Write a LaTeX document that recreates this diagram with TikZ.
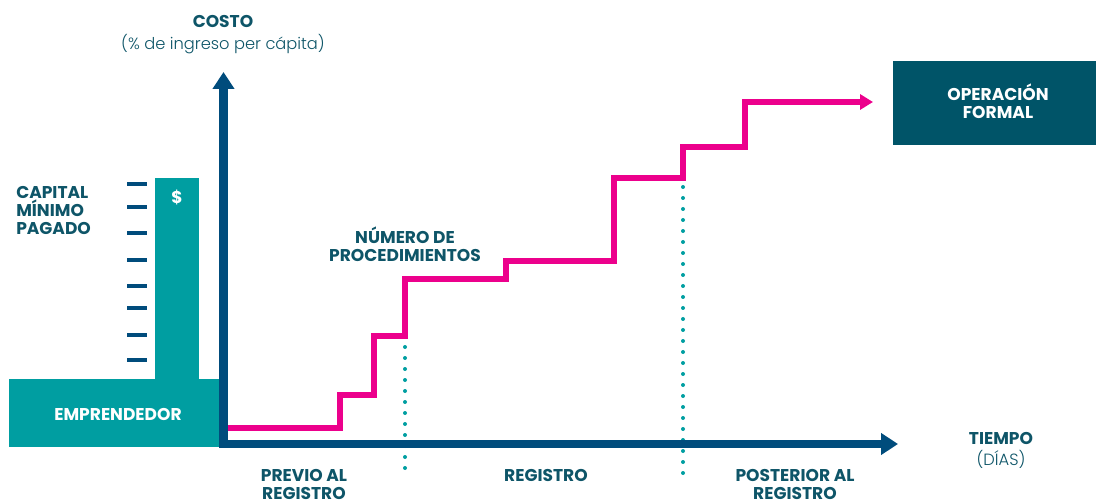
\documentclass[tikz,border=0pt]{standalone}
\usepackage{fontspec}
\setmainfont{Poppins}
\newfontfamily\lightfont{Poppins Light}
\usetikzlibrary{arrows.meta,positioning}
\definecolor{axisblue}{RGB}{0,76,124}
\definecolor{tealc}{RGB}{0,158,161}
\definecolor{darkteal}{RGB}{0,84,104}
\definecolor{labelc}{RGB}{14,85,104}
\definecolor{magentac}{RGB}{236,0,140}

\begin{document}
\begin{tikzpicture}[x=0.75pt, y=-0.75pt,
	lbl/.style = {text=labelc, font=\fontsize{12.8}{13.5}\selectfont\bfseries, align=center, inner sep=0pt},
	lbllight/.style = {text=labelc, font=\fontsize{12.2}{13.5}\selectfont\lightfont, align=center, inner sep=0pt},
	wlbl/.style = {text=white, font=\fontsize{12.8}{13.5}\selectfont\bfseries, align=center, inner sep=0pt},
	axis/.style = {draw=axisblue, -{Triangle[width=15.75pt, length=12.75pt]}},
	tick/.style = {draw=axisblue, line width=2.6pt},
	dots/.style = {draw=tealc, line width=3pt, line cap=round, dash pattern=on 0pt off 8.25pt},
	stairs/.style = {draw=magentac, line width=4.5pt, -{Triangle[width=11.25pt, length=9.75pt]}},
]
	\useasboundingbox (0,0) rectangle (1096,502);
	% capital minimo
	\fill[tealc] (9,379) rectangle (219,447);
	\fill[tealc] (155,178) rectangle (199,380);
	\node[wlbl] (emp) at (118,414) {EMPRENDEDOR};
	\node[wlbl] (usd) at (177,197) {\$};
	\foreach \y in {184,207,233,260,286,308,335,360}
		\draw[tick] (127,\y) -- (147,\y);
	\node[lbl, align=left, anchor=west] (cap) at (16,211) {CAPITAL\\M\'INIMO\\PAGADO};
	% operacion formal
	\fill[darkteal] (893,61) rectangle (1096,145);
	\node[wlbl] (op) at (998,101) {OPERACI\'ON\\FORMAL};
	% separadores
	\coordinate (s1) at (405,347);
	\coordinate (s1b) at (405,475);
	\coordinate (s2) at (683,187);
	\coordinate (s2b) at (683,475);
	\draw[dots] (s1) -- (s1b);
	\draw[dots] (s2) -- (s2b);
	% ejes
	\coordinate (o) at (223.5,448);
	\coordinate (ytop) at (223.5,72);
	\coordinate (ox) at (219,444);
	\coordinate (xend) at (898,444);
	\draw[axis, line width=6.75pt] (o) -- (ytop);
	\draw[axis, line width=6pt] (ox) -- (xend);
	% procedimientos
	\coordinate (p0) at (228,428);
	\draw[stairs] (p0) -| (340,395) -| (374,336) -| (405,279) -| (506,261)
		-| (614,178) -| (683,147) -| (745,102) -- (873,102);
	% textos
	\node[lbl] (costo) at (223,21) {COSTO};
	\node[lbllight, below=5pt of costo] (costo2) {(\% de ingreso per c\'apita)};
	\node[lbl] (num) at (405,244) {N\'UMERO DE\\PROCEDIMIENTOS};
	\node[lbl] (tiempo) at (1001,438) {TIEMPO};
	\node[lbllight, below=4pt of tiempo] (dias) {(D\'IAS)};
	\node[lbl, anchor=north] (previo) at (304,469) {PREVIO AL\\REGISTRO};
	\node[lbl, anchor=north] (reg) at (546,469) {REGISTRO};
	\node[lbl, anchor=north] (post) at (795,469) {POSTERIOR AL\\REGISTRO};
\end{tikzpicture}
\end{document}
